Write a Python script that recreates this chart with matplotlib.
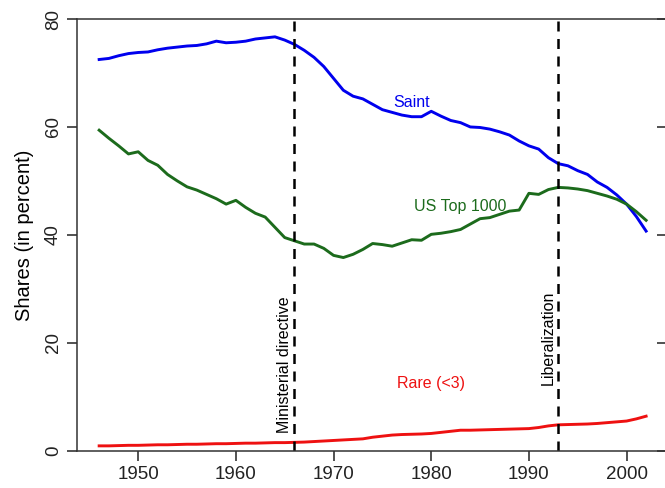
import numpy as np
import matplotlib
matplotlib.use("Agg")
import matplotlib.pyplot as plt

plt.rcParams['font.family'] = ['Liberation Sans', 'DejaVu Sans']

# yearly shares (percent), 1946-2002
years = list(range(1946, 2003))

saint = [72.5, 72.7, 73.2, 73.6, 73.8, 73.9, 74.3, 74.6, 74.8, 75.0,
         75.1, 75.4, 75.9, 75.6, 75.7, 75.9, 76.3, 76.5, 76.7, 76.1,
         75.3, 74.2, 72.9, 71.2, 69.0, 66.8, 65.7, 65.2, 64.2, 63.2,
         62.7, 62.2, 61.9, 61.9, 62.9, 62.0, 61.2, 60.8, 60.0, 59.9,
         59.6, 59.1, 58.5, 57.4, 56.5, 55.9, 54.3, 53.2, 52.8, 51.9,
         51.2, 49.8, 48.8, 47.4, 45.7, 43.4, 40.7]

us_top = [59.4, 57.9, 56.5, 55.0, 55.4, 53.8, 52.9, 51.2, 50.0, 48.9,
          48.3, 47.5, 46.7, 45.7, 46.4, 45.1, 44.0, 43.3, 41.4, 39.5,
          38.9, 38.3, 38.3, 37.5, 36.2, 35.8, 36.4, 37.3, 38.4, 38.2,
          37.9, 38.5, 39.1, 39.0, 40.1, 40.3, 40.6, 41.0, 42.0, 43.0,
          43.2, 43.8, 44.4, 44.6, 47.7, 47.5, 48.4, 48.8, 48.7, 48.5,
          48.2, 47.7, 47.2, 46.6, 45.7, 44.3, 42.7]

rare = [0.9, 0.9, 0.95, 1.0, 1.0, 1.05, 1.1, 1.1, 1.15, 1.2,
        1.2, 1.25, 1.3, 1.3, 1.35, 1.4, 1.4, 1.45, 1.5, 1.5,
        1.55, 1.6, 1.7, 1.8, 1.9, 2.0, 2.1, 2.2, 2.5, 2.7,
        2.9, 3.0, 3.05, 3.1, 3.2, 3.4, 3.6, 3.8, 3.8, 3.85,
        3.9, 3.95, 4.0, 4.05, 4.1, 4.3, 4.6, 4.8, 4.85, 4.9,
        4.95, 5.05, 5.2, 5.35, 5.5, 5.9, 6.4]

events = [1966, 1993]
event_labels = ["Ministerial directive", "Liberalization"]

fig = plt.figure(figsize=(6.65, 4.88), dpi=100)
ax = fig.add_axes([0.1162, 0.0764, 0.8883, 0.8846])

ax.plot(years, saint, color="#0000ee", lw=2.1)
ax.plot(years, us_top, color="#1c6b1c", lw=2.1)
ax.plot(years, rare, color="#ee1111", lw=2.1)

for x in events:
    ax.axvline(x, color="black", lw=1.8, ls=(0, (4, 3)))

# annotations
ax.text(1965, 16, event_labels[0], rotation=90, ha="center", va="center", fontsize=11.5)
ax.text(1992, 21, event_labels[1], rotation=90, ha="center", va="center", fontsize=11.5)
ax.text(1978, 64.6, "Saint", color="#0000ee", ha="center", va="center", fontsize=11.5)
ax.text(1983, 45.3, "US Top 1000", color="#1c6b1c", ha="center", va="center", fontsize=11.5)
ax.text(1980, 12.5, "Rare (<3)", color="#ee1111", ha="center", va="center", fontsize=11.5)

ax.set_xlim(1943.76, 2004.24)
ax.set_ylim(0, 80)
ax.set_xticks([1950, 1960, 1970, 1980, 1990, 2000])
ax.set_yticks([0, 20, 40, 60, 80])
ax.tick_params(axis="x", direction="out", length=7, width=1.1, labelsize=13.5, pad=4, colors="#222222")
ax.tick_params(axis="y", direction="out", length=7, width=1.1, labelsize=13.5, pad=4,
               labelrotation=90, colors="#222222")
ax.tick_params(axis="y", which="both", right=True, labelright=False)
for lab in ax.get_yticklabels():
    lab.set_va("center")
for t in ax.yaxis.get_major_ticks():
    t.tick2line.set_markersize(8)
    t.tick2line.set_marker(0)  # inward on right side

for s in ax.spines.values():
    s.set_linewidth(1.1)
    s.set_color("#333333")
ax.spines["right"].set_visible(False)

ax.set_ylabel("Shares (in percent)", fontsize=14.5, labelpad=8)

fig.savefig("out.png", dpi=100)
